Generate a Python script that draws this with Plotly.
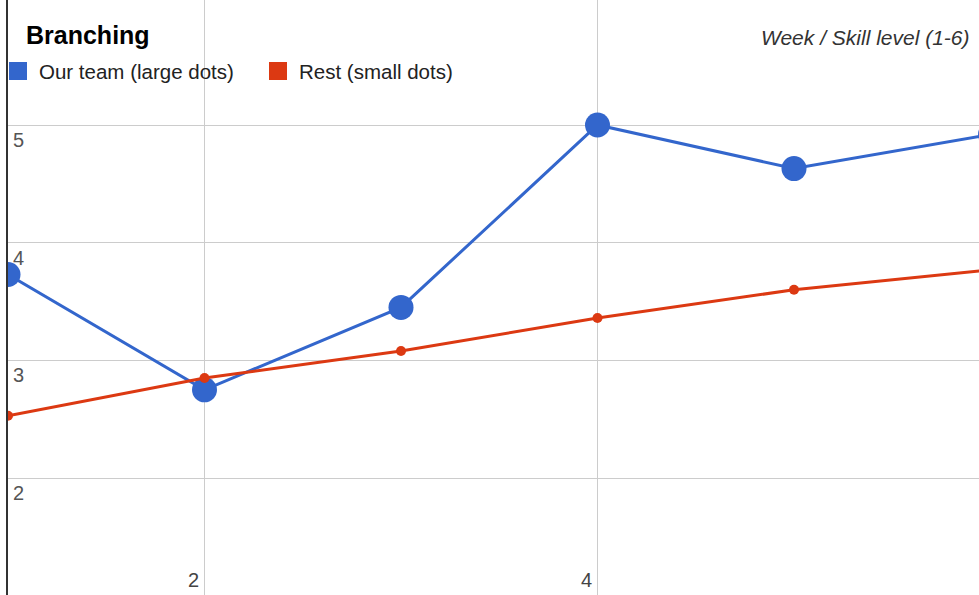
import plotly.graph_objects as go

# Data
weeks = [1, 2, 3, 4, 5, 6]
our_team = [3.73, 2.75, 3.45, 5.0, 4.63, 4.92]
rest = [2.53, 2.85, 3.08, 3.36, 3.60, 3.77]
x_ticks = [2, 4]
x_tick_labels = ["2", "4"]
y_ticks = [2, 3, 4, 5]
y_tick_labels = ["2", "3", "4", "5"]
series_names = ["Our team (large dots)", "Rest (small dots)"]
title_text = "Branching"
axis_title_text = "Week / Skill level (1-6)"

BLUE = "#3366cc"
RED = "#dc3912"
FONT = "Arial, Liberation Sans, sans-serif"

W, H = 979, 595
ML = 8
PW = W - ML

fig = go.Figure()
fig.add_trace(go.Scatter(x=weeks, y=our_team, mode="lines+markers",
                         line=dict(color=BLUE, width=3),
                         marker=dict(color=BLUE, size=25),
                         name=series_names[0], showlegend=False, cliponaxis=True))
fig.add_trace(go.Scatter(x=weeks, y=rest, mode="lines+markers",
                         line=dict(color=RED, width=3),
                         marker=dict(color=RED, size=10),
                         name=series_names[1], showlegend=False, cliponaxis=True))

annotations = []
# x tick labels
for v, t in zip(x_ticks, x_tick_labels):
    annotations.append(dict(x=v, y=0, xref="x", yref="paper", text=t,
                            showarrow=False, xanchor="right", yanchor="bottom",
                            xshift=-4, yshift=2,
                            font=dict(family=FONT, size=20, color="#444444")))
# y tick labels
for v, t in zip(y_ticks, y_tick_labels):
    annotations.append(dict(x=0, y=v, xref="paper", yref="y", text=t,
                            showarrow=False, xanchor="left", yanchor="top",
                            xshift=3, yshift=-2,
                            font=dict(family=FONT, size=20, color="#555555")))
# title
annotations.append(dict(x=(24 - ML) / PW, y=1 - 35 / H, xref="paper", yref="paper",
                        text="<b>" + title_text + "</b>", showarrow=False,
                        xanchor="left", yanchor="middle",
                        font=dict(family=FONT, size=25, color="#000000")))
# axis title (top right)
annotations.append(dict(x=(972 - ML) / PW, y=1 - 37 / H, xref="paper", yref="paper",
                        text="<i>" + axis_title_text + "</i>", showarrow=False,
                        xanchor="right", yanchor="middle",
                        font=dict(family=FONT, size=21, color="#333333")))
# legend labels
legend_items = [(series_names[0], BLUE, 9, 37), (series_names[1], RED, 269, 297)]
shapes = []
for name, col, sx, tx in legend_items:
    shapes.append(dict(type="rect", xref="paper", yref="paper",
                       xsizemode="pixel", ysizemode="pixel",
                       xanchor=0, yanchor=1,
                       x0=sx - ML, x1=sx - ML + 18, y0=-62, y1=-80,
                       fillcolor=col, line=dict(width=0)))
    annotations.append(dict(x=(tx - ML) / PW, y=1 - 71 / H, xref="paper", yref="paper",
                            text=name, showarrow=False, xanchor="left", yanchor="middle",
                            font=dict(family=FONT, size=20.5, color="#222222")))

fig.update_layout(
    width=W, height=H,
    margin=dict(l=ML, r=0, t=0, b=0),
    paper_bgcolor="white", plot_bgcolor="white",
    showlegend=False,
    xaxis=dict(range=[1, 1 + PW / 196.5], tickvals=[2, 4, 6], showticklabels=False,
               showgrid=True, gridcolor="#cccccc", gridwidth=1, zeroline=False,
               showline=False, ticks=""),
    yaxis=dict(range=[1 - 470 / 117.7 + 4, 5 + 125 / 117.7], tickvals=[2, 3, 4, 5],
               showticklabels=False, showgrid=True, gridcolor="#cccccc", gridwidth=1,
               zeroline=False, showline=True, linecolor="#333333", linewidth=1.5, ticks=""),
    annotations=annotations,
    shapes=shapes,
)

fig.write_html("out.html")
